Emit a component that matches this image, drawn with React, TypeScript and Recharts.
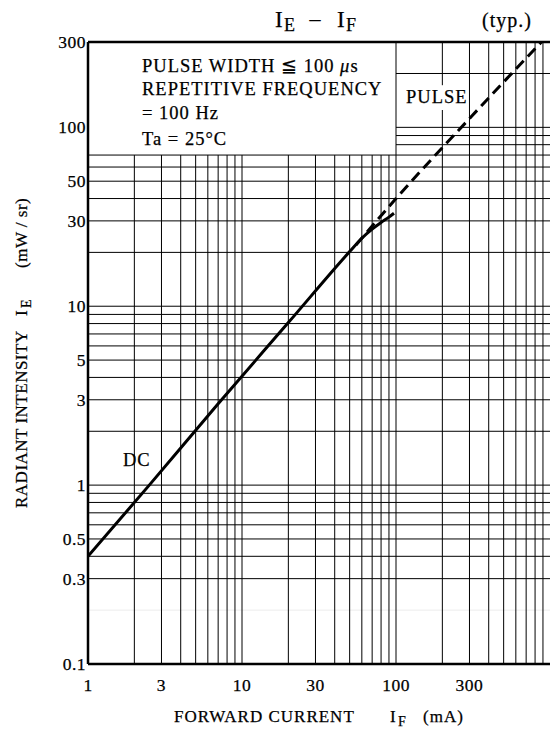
import { LineChart, Line, XAxis, YAxis, ReferenceLine } from 'recharts'

// DC curve (IF mA, IE mW/sr)
const dcCurrent = [1, 2.5, 7, 20, 50, 60, 70, 80, 90, 97]
const dcIntensity = [0.4, 1.0, 2.85, 8.1, 20.2, 24.0, 27.0, 29.4, 31.5, 33.1]

// pulse curve
const pulseCurrent = [55, 100, 300, 880]
const pulseIntensity = [22, 40, 112, 300]

const xTicks = [1, 3, 10, 30, 100, 300]
const yTicks = [0.1, 0.3, 0.5, 1, 3, 5, 10, 30, 50, 100, 300]

// grid
const xGridLow = [2, 3, 4, 5, 6, 7, 8, 9, 10, 20, 30, 40, 50, 60, 70, 80, 90]
const xGridHigh = [100, 300, 400, 500, 600, 700, 800, 900]
const yGridFull = [0.3, 0.4, 0.5, 0.6, 0.7, 0.8, 0.9, 1, 2, 3, 4, 5, 6, 7, 8, 9, 10, 20, 30, 40, 50, 60, 70]
const yGridRight = [80, 90, 100, 200]

const dcData = dcCurrent.map((x, i) => ({ x, y: dcIntensity[i] }))
const pulseData = pulseCurrent.map((x, i) => ({ x, y: pulseIntensity[i] }))

const FONT = "'Liberation Serif', serif"

function XTick(props: any) {
  const { x, payload } = props
  return (
    <text x={x} y={691} textAnchor="middle" fontFamily={FONT} fontSize={17.5} letterSpacing={0.5} fill="#000" stroke="#000" strokeWidth={0.25}>
      {payload.value}
    </text>
  )
}

function YTick(props: any) {
  const { y, payload } = props
  return (
    <text x={86} y={y + 6} textAnchor="end" fontFamily={FONT} fontSize={17.5} letterSpacing={0.5} fill="#000" stroke="#000" strokeWidth={0.25}>
      {payload.value}
    </text>
  )
}

export default function App() {
  const grid = '#000'
  return (
    <div style={{ position: 'fixed', left: 0, top: 0, width: 550, height: 730, background: '#fff' }}>
      <style>{'html,body{margin:0;padding:0;overflow:hidden;}'}</style>
      <LineChart width={550} height={730} margin={{ top: 42, right: 0, bottom: 0, left: 0 }}>
        <XAxis
          dataKey="x"
          type="number"
          scale="log"
          domain={[1, 1000]}
          ticks={xTicks}
          allowDataOverflow
          tickLine={false}
          axisLine={{ stroke: '#000', strokeWidth: 2.5 }}
          tick={<XTick />}
          height={66}
        />
        <YAxis
          dataKey="y"
          type="number"
          scale="log"
          domain={[0.1, 300]}
          ticks={yTicks}
          allowDataOverflow
          tickLine={false}
          axisLine={{ stroke: '#000', strokeWidth: 2.5 }}
          tick={<YTick />}
          width={88}
        />
        <ReferenceLine segment={[{ x: 1, y: 0.2 }, { x: 1000, y: 0.2 }]} stroke="#ececec" strokeWidth={1} />
        {xGridLow.map((v) => (
          <ReferenceLine key={'xl' + v} segment={[{ x: v, y: 0.1 }, { x: v, y: 70 }]} stroke={grid} strokeWidth={1} />
        ))}
        {xGridHigh.map((v) => (
          <ReferenceLine key={'xh' + v} segment={[{ x: v, y: 0.1 }, { x: v, y: 300 }]} stroke={grid} strokeWidth={1} />
        ))}
        <ReferenceLine segment={[{ x: 200, y: 0.1 }, { x: 200, y: 125 }]} stroke={grid} strokeWidth={1} />
        <ReferenceLine segment={[{ x: 200, y: 172 }, { x: 200, y: 300 }]} stroke={grid} strokeWidth={1} />
        {yGridFull.map((v) => (
          <ReferenceLine key={'yf' + v} segment={[{ x: 1, y: v }, { x: 1000, y: v }]} stroke={grid} strokeWidth={1} />
        ))}
        {yGridRight.map((v) => (
          <ReferenceLine key={'yr' + v} segment={[{ x: 100, y: v }, { x: 1000, y: v }]} stroke={grid} strokeWidth={1} />
        ))}
        <ReferenceLine y={300} stroke="#000" strokeWidth={2.5} />
        <Line
          data={dcData}
          dataKey="y"
          type="monotone"
          stroke="#000"
          strokeWidth={3}
          dot={false}
          isAnimationActive={false}
        />
        <Line
          data={pulseData}
          dataKey="y"
          type="monotone"
          stroke="#000"
          strokeWidth={3}
          strokeDasharray="11 6"
          dot={false}
          isAnimationActive={false}
        />
      </LineChart>
      <svg
        width={550}
        height={730}
        style={{ position: 'absolute', left: 0, top: 0, pointerEvents: 'none' }}
        fontFamily={FONT}
        fill="#000"
        stroke="#000"
        strokeWidth={0.25}
      >
        {/* title */}
        <text x={275} y={27} fontSize={23}>I</text>
        <text x={284} y={31} fontSize={18}>E</text>
        <text x={315} y={26} fontSize={22} textAnchor="middle">–</text>
        <text x={337} y={27} fontSize={23}>I</text>
        <text x={346} y={31} fontSize={18}>F</text>
        <text x={482} y={27} fontSize={20} letterSpacing={1}>(typ.)</text>

        {/* condition box */}
        <g fontSize={18.5} letterSpacing={1}>
          <text x={142} y={72}>
            PULSE WIDTH ≦ 100 <tspan fontStyle="italic">μ</tspan>s
          </text>
          <text x={142} y={95}>REPETITIVE FREQUENCY</text>
          <text x={142} y={119}>= 100 Hz</text>
          <text x={142} y={145}>Ta = 25°C</text>
          <text x={406} y={103}>PULSE</text>
          <text x={123} y={466}>DC</text>
        </g>

        {/* x label */}
        <g fontSize={17} letterSpacing={1}>
          <text x={174} y={722}>FORWARD CURRENT</text>
          <text x={390} y={722}>I</text>
          <text x={398} y={726} fontSize={14}>F</text>
          <text x={423} y={722}>(mA)</text>
        </g>

        {/* y label */}
        <g fontSize={17} letterSpacing={0.5} transform="rotate(-90)">
          <text x={-508} y={27}>RADIANT INTENSITY</text>
          <text x={-316} y={27}>I</text>
          <text x={-308} y={31} fontSize={14}>E</text>
          <text x={-268} y={27}>(mW / sr)</text>
        </g>
      </svg>
    </div>
  )
}
